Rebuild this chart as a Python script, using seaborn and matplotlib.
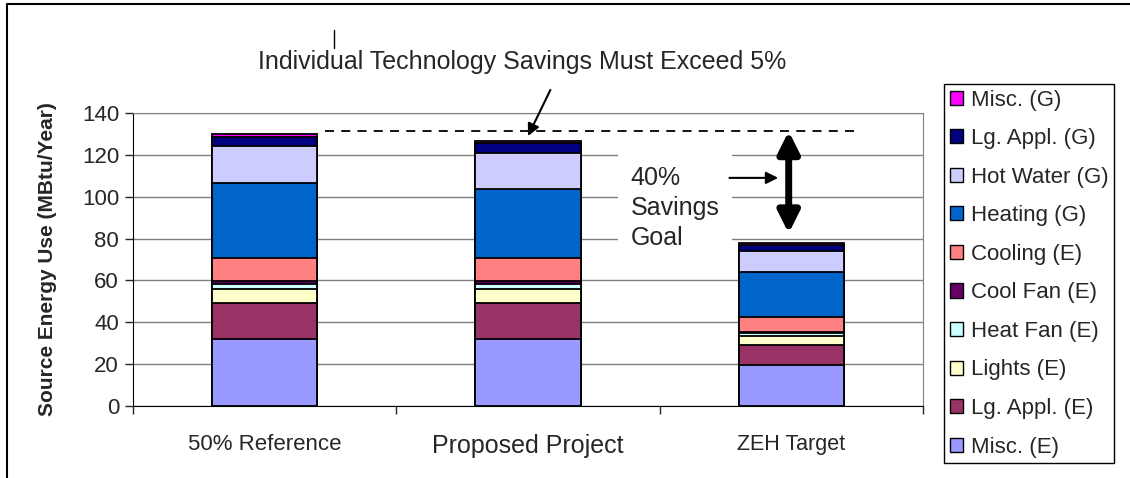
import numpy as np
import pandas as pd
import seaborn as sns
import matplotlib.pyplot as plt
from matplotlib.lines import Line2D
from matplotlib.patches import Patch

# bar categories
categories = ["50% Reference", "Proposed Project", "ZEH Target"]

# end uses, bottom to top (MBtu/Year)
misc_e = [32.0, 32.0, 19.5]
lg_appl_e = [17.0, 17.0, 9.5]
lights_e = [7.0, 7.0, 4.5]
heat_fan_e = [2.5, 2.5, 1.2]
cool_fan_e = [1.0, 1.0, 0.7]
cooling_e = [11.0, 11.0, 7.2]
heating_g = [36.0, 33.3, 21.3]
hot_water_g = [17.8, 17.2, 10.4]
lg_appl_g = [4.3, 4.5, 2.7]
misc_g = [1.2, 1.2, 1.0]

series_names = ["Misc. (E)", "Lg. Appl. (E)", "Lights (E)", "Heat Fan (E)", "Cool Fan (E)",
                "Cooling (E)", "Heating (G)", "Hot Water (G)", "Lg. Appl. (G)", "Misc. (G)"]
series_values = [misc_e, lg_appl_e, lights_e, heat_fan_e, cool_fan_e,
                 cooling_e, heating_g, hot_water_g, lg_appl_g, misc_g]
colors = ["#9999FF", "#993366", "#FFFFCC", "#CCFFFF", "#660066",
          "#FF8080", "#0066CC", "#CCCCFF", "#000080", "#FF00FF"]

y_ticks = [0, 20, 40, 60, 80, 100, 120, 140]
goal_line = 131.3

sns.set_style("white")
plt.rcParams["font.family"] = ["Liberation Sans", "DejaVu Sans"]

df = pd.DataFrame(dict(zip(series_names, series_values)), index=categories)
cum = df.cumsum(axis=1)

fig = plt.figure(figsize=(11.3, 4.78), dpi=100)
ax = fig.add_axes([133 / 1130, 1 - 406 / 478, (923 - 133) / 1130, (406 - 113) / 478])

# stacked bars: draw cumulative totals from top layer down
for name, color in reversed(list(zip(series_names, colors))):
    sns.barplot(x=categories, y=cum[name].values, order=categories, color=color,
                width=0.4, edgecolor="black", linewidth=1.3, saturation=1, ax=ax, zorder=3)

ax.set_xlim(-0.5, 2.5)
ax.set_ylim(0, 140)
ax.set_yticks(y_ticks)
ax.tick_params(axis="y", labelsize=16, length=6, width=1, direction="out", left=True, pad=4)
ax.set_xticks([0, 1, 2])
ax.set_xticklabels(categories)
for lab, size in zip(ax.get_xticklabels(), [16, 18, 15.5]):
    lab.set_fontsize(size)
ax.set_xticks([-0.5, 0.5, 1.5, 2.5], minor=True)
ax.tick_params(axis="x", which="major", length=0, pad=20)
ax.tick_params(axis="x", which="minor", length=6, width=1, direction="out", bottom=True)
ax.yaxis.grid(True, color="#808080", linewidth=1)
ax.set_axisbelow(True)
for side in ["top", "right"]:
    ax.spines[side].set_color("#808080")
for side in ["left", "bottom"]:
    ax.spines[side].set_color("black")
ax.set_xlabel("")
ax.set_ylabel("Source Energy Use (MBtu/Year)", fontsize=15, fontweight="bold", labelpad=18)

# goal line and annotations
ax.plot([0.23, 2.24], [goal_line, goal_line], color="black", linestyle=(0, (5, 4)),
        linewidth=1.3, zorder=4)
ax.annotate("", xy=(1.99, goal_line), xytext=(1.99, 82.5),
            arrowprops=dict(arrowstyle="<|-|>", color="black", lw=5, mutation_scale=32,
                            shrinkA=0, shrinkB=0), zorder=5)
ax.annotate("", xy=(1.95, 109), xytext=(1.765, 109),
            arrowprops=dict(arrowstyle="-|>", color="black", lw=1.5, mutation_scale=18,
                            shrinkA=0, shrinkB=0), zorder=5)
ax.text(1.39, 94.7, "40%\nSavings\nGoal", fontsize=18, ha="left", va="center",
        linespacing=1.3, zorder=4,
        bbox=dict(boxstyle="square,pad=0.5", facecolor="white", edgecolor="none"))
ax.annotate("", xy=(1.0, 129), xytext=(1.085, 151),
            arrowprops=dict(arrowstyle="-|>", color="black", lw=1.5, mutation_scale=18,
                            shrinkA=0, shrinkB=0), annotation_clip=False, zorder=5)
fig.text(522 / 1130, 1 - 62 / 478, "Individual Technology Savings Must Exceed 5%",
         fontsize=18, ha="center", va="center")

# stray tick and chart border
fig.add_artist(Line2D([334 / 1130, 334 / 1130], [1 - 30 / 478, 1 - 48 / 478],
                      color="black", linewidth=1))
fig.add_artist(Line2D([7 / 1130, 7 / 1130, 1.0], [0.0, 1 - 4 / 478, 1 - 4 / 478],
                      color="black", linewidth=1.5))

handles = [Patch(facecolor=c, edgecolor="black", linewidth=1, label=n)
           for n, c in zip(series_names, colors)][::-1]
leg = fig.legend(handles=handles, loc="upper left",
                 bbox_to_anchor=(944 / 1130, 1 - 84 / 478), fontsize=16,
                 frameon=True, fancybox=False, edgecolor="black", framealpha=1,
                 handlelength=0.6, handleheight=0.6, handletextpad=0.35,
                 labelspacing=0.79, borderpad=0.25, borderaxespad=0)
leg.get_frame().set_linewidth(1)

fig.savefig("out.png", dpi=100)
